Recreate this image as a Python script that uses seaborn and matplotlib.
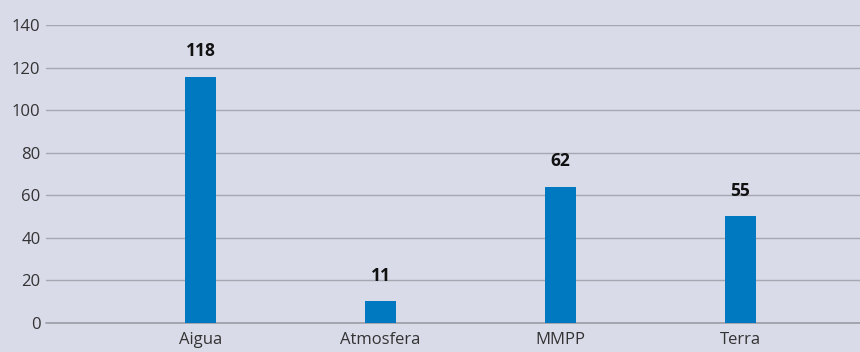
import matplotlib
matplotlib.use("Agg")
import matplotlib.pyplot as plt
import pandas as pd
import seaborn as sns

categories = ["Aigua", "Atmosfera", "MMPP", "Terra"]
bar_values = [115.5, 10, 64, 50]
bar_labels = ["118", "11", "62", "55"]
yticks = [0, 20, 40, 60, 80, 100, 120, 140]

df = pd.DataFrame({"cat": categories, "val": bar_values})

sns.set_style("white")
plt.rcParams["font.family"] = ["Open Sans", "DejaVu Sans"]

bg = "#d9dbe9"
fig = plt.figure(figsize=(8.6, 3.52), dpi=100, facecolor=bg)
ax = fig.add_axes([0.0535, 0.0838, 0.9465, 0.845])
ax.set_facecolor(bg)

sns.barplot(data=df, x="cat", y="val", color="#0079c1", saturation=1,
            width=0.172, linewidth=0, ax=ax, zorder=3)

# value labels above the bars
for i, (v, lab) in enumerate(zip(bar_values, bar_labels)):
    ax.annotate(lab, (i, v), xytext=(0, 12), textcoords="offset points",
                ha="center", va="bottom", fontsize=12.5, fontweight="bold",
                color="#111111")

ax.set_ylim(0, 140)
ax.set_xlim(-0.858, 3.664)
ax.set_yticks(yticks)
ax.yaxis.grid(True, color="#a6a7b0", linewidth=1.0, zorder=0)
ax.axhline(0, color="#a0a1aa", linewidth=1.3, clip_on=False, zorder=2)
ax.set_axisbelow(True)
for s in ax.spines.values():
    s.set_visible(False)
ax.tick_params(axis="both", length=0, labelsize=12, labelcolor="#333333")
ax.tick_params(axis="y", pad=4)
ax.tick_params(axis="x", pad=7)
ax.set_xlabel("")
ax.set_ylabel("")

fig.savefig("out.png", dpi=100, facecolor=bg)
